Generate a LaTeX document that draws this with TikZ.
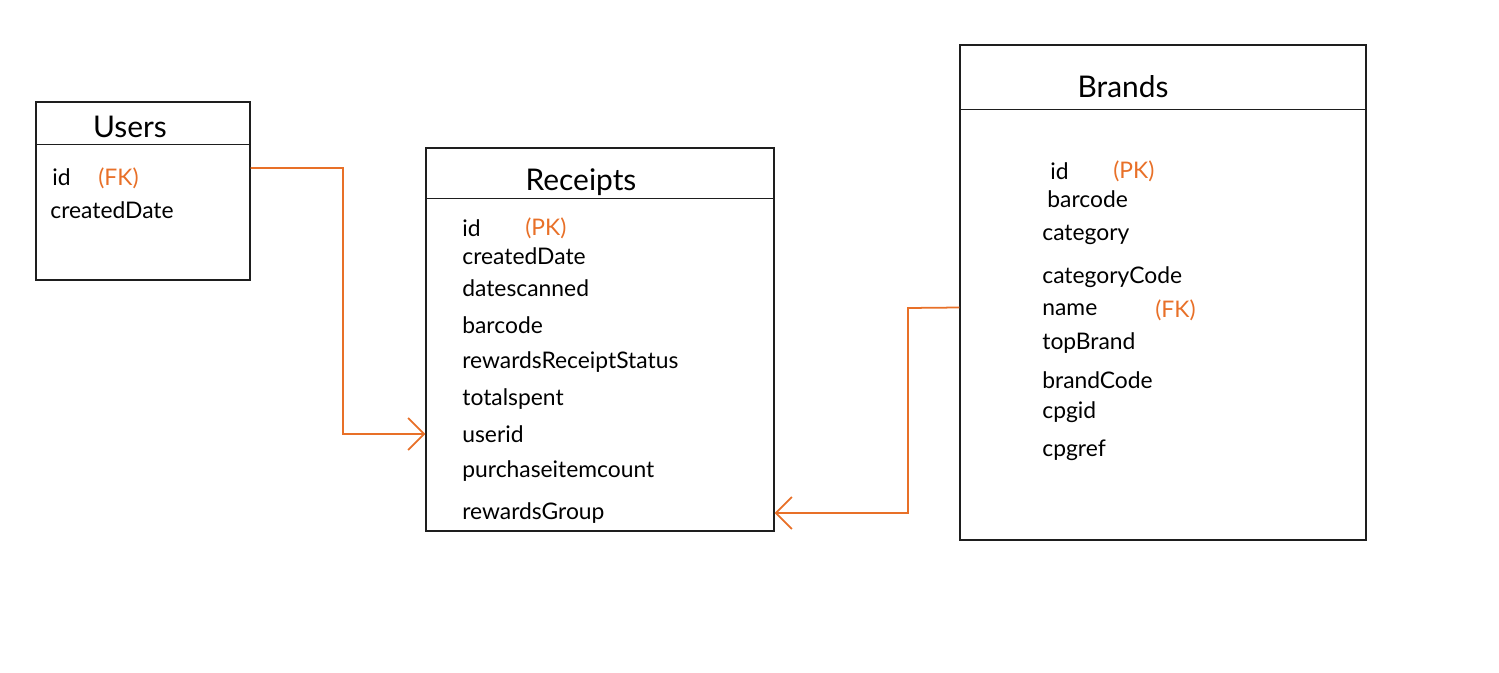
\documentclass[tikz,border=0pt]{standalone}
\usepackage{fontspec}
\setmainfont{Lato}
\usepackage{xcolor}
\usepackage{tikz}
\usetikzlibrary{positioning,arrows.meta}
\definecolor{keycolor}{RGB}{232,112,40}
\definecolor{boxcolor}{RGB}{30,30,30}
\tikzset{
  entity box/.style={
    rectangle,
    draw=boxcolor,
    thick,
    inner sep=0pt
  },
  entity title/.style={
    inner sep=0pt,
    font=\fontsize{17}{20}\selectfont
  },
  entity field/.style={
    anchor=west,
    inner sep=0pt,
    font=\fontsize{13}{15}\selectfont
  },
  key label/.style={
    entity field,
    text=keycolor
  },
  fk arrow/.style={
    draw=keycolor,
    line width=1pt,
    -{Straight Barb[length=3.2mm,width=6.4mm]}
  }
}

\begin{document}
\begin{tikzpicture}[x=0.02cm, y=-0.02cm]
  % ER sketch of users, receipts and brands
  \useasboundingbox (0,0) rectangle (1499,673);

  \node[entity box, minimum width=4.28cm, minimum height=3.56cm] (users) at (143,191) {};
  \node[entity box, minimum width=6.96cm, minimum height=7.66cm] (receipts) at (600,339.5) {};
  \node[entity box, minimum width=8.12cm, minimum height=9.9cm] (brands) at (1163,292.5) {};

  \draw[boxcolor, thick] ([yshift=-0.86cm]users.north west) -- ([yshift=-0.86cm]users.north east);
  \draw[boxcolor, thick] ([yshift=-1.02cm]receipts.north west) -- ([yshift=-1.02cm]receipts.north east);
  \draw[boxcolor, thick] ([yshift=-1.3cm]brands.north west) -- ([yshift=-1.3cm]brands.north east);

  \node[entity title] (users-title) at (130,127) {Users};
  \node[entity title] (receipts-title) at (581,182) {Receipts};
  \node[entity title] (brands-title) at (1123,87) {Brands};

  \node[entity field] (u-id) at (52,177) {id};
  \node[key label] (u-fk) at (98,178) {(FK)};
  \node[entity field] (u-created) at (50,210) {createdDate};

  \node[entity field] (r-id) at (462,228) {id};
  \node[key label] (r-pk) at (525,228) {(PK)};
  \node[entity field] (r-created) at (462,256) {createdDate};
  \node[entity field] (r-scanned) at (462,288) {datescanned};
  \node[entity field] (r-barcode) at (462,325) {barcode};
  \node[entity field] (r-status) at (462,362) {rewardsReceiptStatus};
  \node[entity field] (r-spent) at (462,399) {totalspent};
  \node[entity field] (r-userid) at (462,434) {userid};
  \node[entity field] (r-count) at (462,471) {purchaseitemcount};
  \node[entity field] (r-group) at (462,513) {rewardsGroup};

  \node[entity field] (b-id) at (1050,171) {id};
  \node[key label] (b-pk) at (1113,171) {(PK)};
  \node[entity field] (b-barcode) at (1047,199) {barcode};
  \node[entity field] (b-category) at (1042,235) {category};
  \node[entity field] (b-catcode) at (1042,277) {categoryCode};
  \node[entity field] (b-name) at (1042,310) {name};
  \node[key label] (b-fk) at (1155,310) {(FK)};
  \node[entity field] (b-top) at (1042,343) {topBrand};
  \node[entity field] (b-code) at (1042,380) {brandCode};
  \node[entity field] (b-cpgid) at (1042,412) {cpgid};
  \node[entity field] (b-cpgref) at (1042,450) {cpgref};

  \draw[fk arrow] ([yshift=0.46cm]users.east) -- (343,168) -- (343,434) -- (receipts.west |- r-userid);
  \draw[fk arrow] ([yshift=-0.3cm]brands.west) -- (908,308) -- (908,513) -- (receipts.east |- r-group);
\end{tikzpicture}
\end{document}
